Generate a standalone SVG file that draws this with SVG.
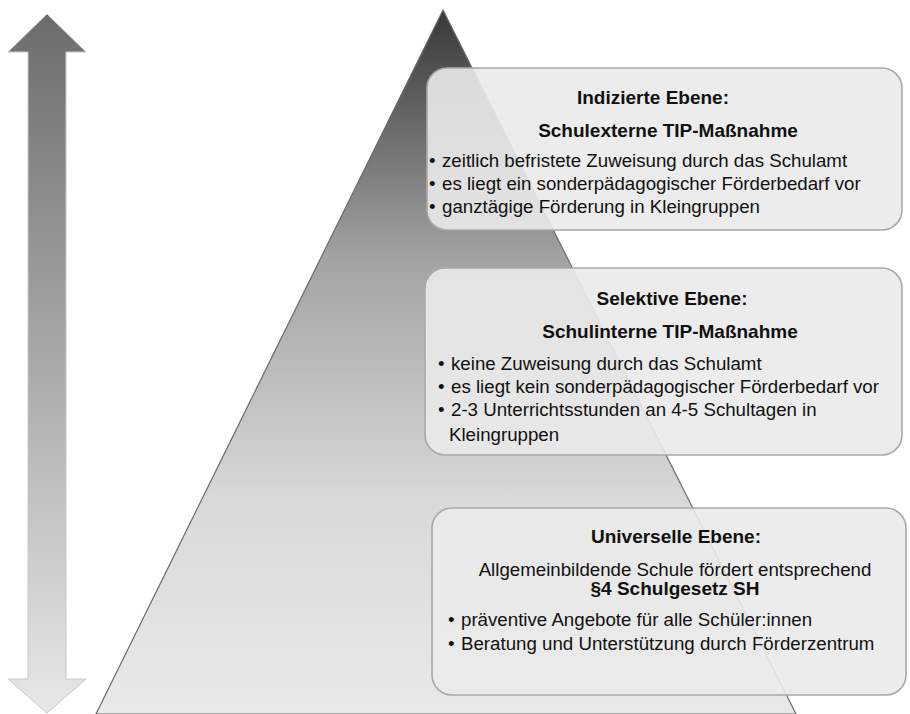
<svg xmlns="http://www.w3.org/2000/svg" width="910" height="714" viewBox="0 0 910 714">
  <defs>
    <linearGradient id="arrowFill" x1="0" y1="0" x2="0" y2="1">
      <stop offset="0" stop-color="#6c6c6c"/>
      <stop offset="0.5" stop-color="#a9a9a9"/>
      <stop offset="1" stop-color="#e8e8e8"/>
    </linearGradient>
    <linearGradient id="pyramidFill" gradientUnits="userSpaceOnUse" x1="0" y1="10" x2="0" y2="714">
      <stop offset="0" stop-color="#383838"/>
      <stop offset="0.35" stop-color="#a2a2a2"/>
      <stop offset="0.7" stop-color="#d9d9d9"/>
      <stop offset="1" stop-color="#e9e9e9"/>
    </linearGradient>
    <style>
      .box { fill: #eaeaea; fill-opacity: 0.9; stroke: #a8a8a8; stroke-width: 1.6; }
      .t { font-family: "Liberation Sans", Arial, sans-serif; font-size: 18.7px; fill: #111; }
      .b { font-weight: bold; font-size: 19px; }
      .c { text-anchor: middle; }
    </style>
  </defs>

  <!-- double-headed vertical arrow -->
  <g id="scale-arrow">
    <polygon points="47,14 86,52 66,52 66,679 86,679 47,713 8,679 28,679 28,52 8,52"
             fill="url(#arrowFill)" stroke="#c8c8c8" stroke-width="1"/>
  </g>

  <!-- pyramid -->
  <g id="pyramid">
    <polygon points="443,10 796,714 96,714" fill="url(#pyramidFill)" stroke="#6a6a6a" stroke-width="1.2"/>
  </g>

  <!-- indicated level -->
  <g id="level-indicated">
    <rect class="box" x="427" y="68" width="475" height="162" rx="20"/>
    <text class="t b c" x="653" y="104">Indizierte Ebene:</text>
    <text class="t b c" x="668" y="137">Schulexterne TIP-Maßnahme</text>
    <text class="t" x="429" y="167">•<tspan x="442">zeitlich befristete Zuweisung durch das Schulamt</tspan></text>
    <text class="t" x="429" y="190">•<tspan x="442">es liegt ein sonderpädagogischer Förderbedarf vor</tspan></text>
    <text class="t" x="429" y="213">•<tspan x="442">ganztägige Förderung in Kleingruppen</tspan></text>
  </g>

  <!-- selective level -->
  <g id="level-selective">
    <rect class="box" x="425" y="268" width="477" height="187" rx="20"/>
    <text class="t b c" x="672" y="305">Selektive Ebene:</text>
    <text class="t b c" x="670" y="338">Schulinterne TIP-Maßnahme</text>
    <text class="t" x="438" y="370">•<tspan x="451">keine Zuweisung durch das Schulamt</tspan></text>
    <text class="t" x="438" y="393">•<tspan x="451">es liegt kein sonderpädagogischer Förderbedarf vor</tspan></text>
    <text class="t" x="438" y="416">•<tspan x="451">2-3 Unterrichtsstunden an 4-5 Schultagen in</tspan></text>
    <text class="t" x="449" y="441">Kleingruppen</text>
  </g>

  <!-- universal level -->
  <g id="level-universal">
    <rect class="box" x="432" y="508" width="474" height="187" rx="20"/>
    <text class="t b c" x="676" y="543">Universelle Ebene:</text>
    <text class="t c" x="675" y="576">Allgemeinbildende Schule fördert entsprechend</text>
    <text class="t b c" x="675" y="595">§4 Schulgesetz SH</text>
    <text class="t" x="448" y="626">•<tspan x="461">präventive Angebote für alle Schüler:innen</tspan></text>
    <text class="t" x="448" y="650">•<tspan x="461">Beratung und Unterstützung durch Förderzentrum</tspan></text>
  </g>

  <!-- no connectors in this figure -->
  <g id="connectors"/>
</svg>
